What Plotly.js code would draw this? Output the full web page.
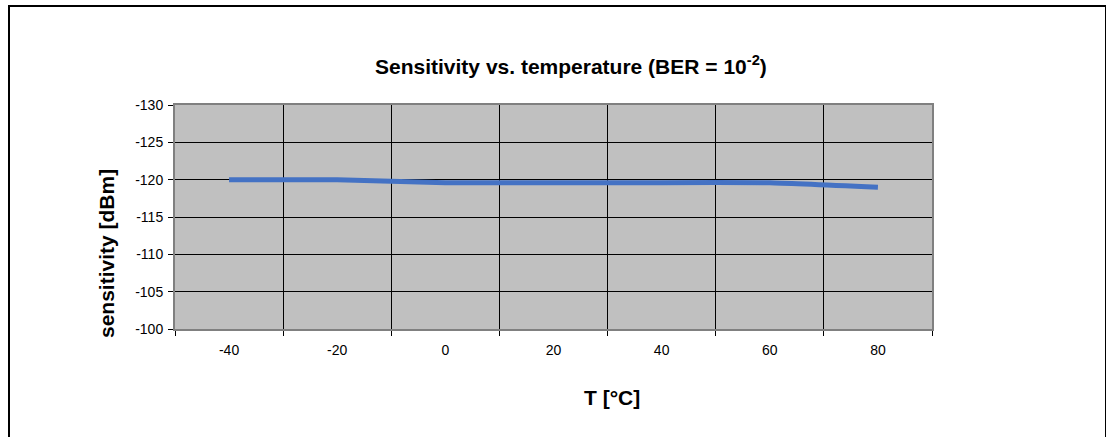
<!DOCTYPE html>
<html>
<head>
<meta charset="utf-8">
<script src="https://cdn.plot.ly/plotly-3.0.1.min.js"></script>
<style>
  html, body { margin: 0; padding: 0; overflow: hidden; background: #fff; }
  #chart { position: absolute; left: 0; top: 0; width: 1106px; height: 437px; }
  #frame { position: absolute; left: 8px; top: 5px; width: 1095px; height: 500px;
           border: 2px solid #000; border-bottom: none; pointer-events: none; }
</style>
</head>
<body>
<div id="chart"></div>
<div id="frame"></div>
<script>
// ---- data ----
const temperatures = [-40, -20, 0, 20, 40, 60, 80];
const temperatureLabels = ['-40', '-20', '0', '20', '40', '60', '80'];
const sensitivity = [-120, -120, -119.6, -119.6, -119.6, -119.6, -119.0];
const yTickValues = [-130, -125, -120, -115, -110, -105, -100];
const yTickLabels = ['-130', '-125', '-120', '-115', '-110', '-105', '-100'];

const font = 'Liberation Sans, Arial, sans-serif';

// category boundaries (half step either side of each temperature)
const half = (temperatures[1] - temperatures[0]) / 2;
const boundaries = temperatures.map(t => t - half).concat([temperatures[temperatures.length - 1] + half]);
const xRange = [boundaries[0], boundaries[boundaries.length - 1]];

const trace = {
  x: temperatures,
  y: sensitivity,
  xaxis: 'x',
  yaxis: 'y',
  type: 'scatter',
  mode: 'lines',
  line: { color: '#4472C4', width: 5, shape: 'spline', smoothing: 0.4 },
  hoverinfo: 'skip'
};

const layout = {
  width: 1106,
  height: 437,
  margin: { l: 175, r: 174, t: 105, b: 108 },
  paper_bgcolor: '#ffffff',
  plot_bgcolor: '#C0C0C0',
  showlegend: false,
  xaxis: {
    range: xRange,
    tickmode: 'array',
    tickvals: boundaries,
    showticklabels: false,
    showgrid: true,
    gridcolor: '#000',
    gridwidth: 1,
    showline: true,
    linecolor: '#808080',
    linewidth: 2,
    mirror: true,
    ticks: 'outside',
    ticklen: 5,
    tickcolor: '#000',
    zeroline: false
  },
  xaxis2: {
    overlaying: 'x',
    anchor: 'y',
    side: 'bottom',
    range: xRange,
    tickmode: 'array',
    tickvals: temperatures,
    ticktext: temperatureLabels,
    showgrid: false,
    showline: false,
    zeroline: false,
    ticks: '',
    ticklabelstandoff: 11,
    tickfont: { family: font, size: 14, color: '#000' }
  },
  yaxis: {
    range: [-100, -130],
    tickmode: 'array',
    tickvals: yTickValues,
    ticktext: yTickLabels,
    showgrid: true,
    gridcolor: '#000',
    gridwidth: 1,
    showline: true,
    linecolor: '#808080',
    linewidth: 2,
    mirror: true,
    ticks: 'outside',
    ticklen: 5,
    tickcolor: '#000',
    ticklabelstandoff: 2,
    tickfont: { family: font, size: 14, color: '#000' },
    zeroline: false
  },
  annotations: [
    {
      text: '<b>Sensitivity vs. temperature (BER = 10<sup>-2</sup>)</b>',
      xref: 'paper', yref: 'paper',
      x: (571 - 175) / 757, y: (329 - 65) / 224,
      xanchor: 'center', yanchor: 'middle',
      showarrow: false,
      font: { family: font, size: 21, color: '#000' }
    },
    {
      text: '<b>T [°C]</b>',
      xref: 'paper', yref: 'paper',
      x: (612 - 175) / 757, y: (329 - 397) / 224,
      xanchor: 'center', yanchor: 'middle',
      showarrow: false,
      font: { family: font, size: 21, color: '#000' }
    },
    {
      text: '<b>sensitivity [dBm]</b>',
      xref: 'paper', yref: 'paper',
      x: (106 - 175) / 757, y: (329 - 254) / 224,
      xanchor: 'center', yanchor: 'middle',
      textangle: -90,
      showarrow: false,
      font: { family: font, size: 21, color: '#000' }
    }
  ]
};

Plotly.newPlot('chart', [trace, { x: [], y: [], xaxis: 'x2', yaxis: 'y', type: 'scatter', hoverinfo: 'skip' }], layout, { displayModeBar: false, staticPlot: true });
</script>
</body>
</html>
